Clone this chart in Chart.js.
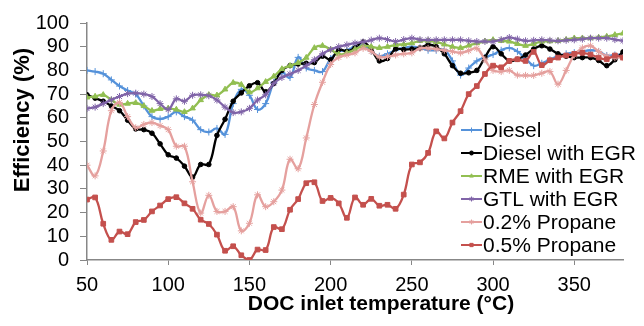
<!DOCTYPE html>
<html>
<head>
<meta charset="utf-8">
<script src="https://cdn.jsdelivr.net/npm/chart.js@4/dist/chart.umd.min.js"></script>
<style>
  html, body { margin: 0; padding: 0; background: #fff; }
  #wrap { width: 644px; height: 326px; }
</style>
</head>
<body>
<div id="wrap"><canvas id="effChart" width="644" height="326"></canvas></div>
<script>
// DOC inlet temperature (°C), one reading every 5 degrees
const temps = [50, 55, 60, 65, 70, 75, 80, 85, 90, 95, 100, 105, 110, 115, 120, 125, 130, 135, 140, 145,
  150, 155, 160, 165, 170, 175, 180, 185, 190, 195, 200, 205, 210, 215, 220, 225, 230, 235, 240, 245,
  250, 255, 260, 265, 270, 275, 280, 285, 290, 295, 300, 305, 310, 315, 320, 325, 330, 335, 340, 345,
  350, 355, 360, 365, 370, 375, 380];

const xTicks = [50, 100, 150, 200, 250, 300, 350];

const diesel = [80, 79.5, 78.6, 76, 73.4, 71.5, 70, 65, 60.5, 59.5, 60.5, 62.5, 60.5, 59, 55, 54, 55.5, 53, 66, 72,
  69.5, 63.5, 66, 75, 79, 77, 85.5, 81, 80, 79.5, 85, 88, 88.5, 90, 90.5, 88, 86, 87, 88.5, 89.5,
  90, 89.5, 88.5, 88.5, 88.8, 84, 78, 81, 84, 85.5, 86.7, 88.5, 89.5, 88, 85, 82, 83, 84.5, 86, 87,
  87.5, 88, 88.5, 88, 86.3, 86.5, 86.7];

const dieselEgr = [69.7, 68.3, 67, 65, 63, 59, 55.3, 55, 53.5, 49, 44.4, 43, 39.6, 35, 40.3, 40.3, 52.6, 59.4, 67, 70.5,
  73.5, 74.8, 71, 74.5, 80, 82, 82.7, 83, 83.3, 86, 84.5, 88.8, 88, 89.5, 92, 88.8, 84, 85, 89, 88.8,
  89, 89.5, 90.8, 90, 87, 82, 78.8, 79, 80, 85.5, 90, 87, 84, 84.7, 86.5, 89, 90.4, 89, 87, 86,
  85.4, 85.4, 85.4, 84.2, 82, 84.5, 87.8];

const rmeEgr = [68.6, 69, 69.7, 67.5, 65.6, 66, 66.3, 65, 63, 63.8, 64, 63.5, 62.5, 64, 67.5, 69.7, 69.5, 72, 74.8, 74,
  70.8, 72.5, 75.2, 77.5, 80.6, 82, 83.2, 85.4, 89.5, 90.4, 88.8, 86.8, 87.4, 88.8, 90.4, 90, 89.5, 90, 90.8, 91,
  91.5, 92.5, 92.5, 92, 91, 90, 89.5, 90.5, 91.5, 92.3, 92.9, 92.5, 92.2, 91.2, 90.4, 91.2, 92.2, 92.3, 92.5, 93,
  93.6, 93.6, 93.6, 93.9, 94.3, 95, 95.6];

const gtlEgr = [63.9, 64.5, 66, 67.6, 69, 70.2, 70.4, 70, 69, 66, 63.5, 68, 67, 69.5, 69.7, 69.3, 67.5, 64.5, 62.2, 62.5,
  64, 67.5, 69.7, 74.5, 77, 78.5, 80, 82, 84.5, 87, 88.8, 90, 90.8, 91.5, 92, 92.8, 93.6, 93, 92.2, 93,
  93.6, 93, 92.9, 92.9, 92.9, 92.9, 92.9, 92.5, 92.2, 92.2, 92.2, 93, 93.9, 93.2, 92.5, 92.7, 92.9, 92.7, 92.5, 92.7,
  92.9, 93.2, 93.6, 93.6, 93.6, 93, 92.5];

const propane02 = [40, 35.5, 46, 63, 66.5, 60.5, 55.8, 57.2, 58, 56.7, 55, 48, 48, 33, 19.8, 27.3, 20.5, 20.5, 22.5, 12.3,
  15.5, 27.5, 22.5, 24.6, 29.5, 42.5, 38.5, 51.5, 65.6, 75, 82.5, 85.5, 86.5, 87.4, 89.3, 88, 85.6, 85.8, 86.5, 87,
  87.4, 89.3, 89.3, 89, 88.5, 88, 87.4, 88.3, 89.3, 84.5, 80, 79.5, 80, 78, 77.9, 77.9, 78.8, 79.5, 74.2, 80,
  86.5, 89.5, 90.4, 88, 86, 85.4, 85.4];

const propane05 = [25.5, 26.4, 15.3, 8.5, 12, 10.9, 16, 16.9, 20.5, 23, 25.7, 26.5, 23.9, 21.6, 17, 15.2, 10.7, 3.9, 5.8, 2,
  0, 4.4, 4.2, 13.9, 13, 21.2, 25.7, 32.4, 32.8, 24.9, 26.2, 23.9, 17.8, 26.4, 23.3, 25.8, 22.9, 23.3, 21.6, 27.6,
  40.3, 41.2, 45.2, 54.3, 51.3, 58, 62.8, 70, 73.4, 78.5, 82, 81.3, 84, 84.7, 84, 87.8, 82.2, 84.3, 85.4, 86.3,
  87, 87.4, 86.7, 85.4, 84.7, 86.3, 85.4];

const seriesNames = ['Diesel', 'Diesel with EGR', 'RME with EGR', 'GTL with EGR', '0.2% Propane', '0.5% Propane'];
const seriesValues = [diesel, dieselEgr, rmeEgr, gtlEgr, propane02, propane05];
const seriesColors = ['#5592DA', '#000000', '#92BF52', '#8064A8', '#E5A09E', '#C4504D'];
const seriesMarkers = ['cross', 'circle', 'triangle', 'star', 'star', 'rect'];
const markerSizes = [3.5, 2.3, 3.2, 3.5, 3.5, 3.3];

const FONT = '"Liberation Sans", Arial, sans-serif';
const AXIS_GREY = '#878787';

function toPoints(vals) {
  return temps.map((t, i) => ({ x: t, y: vals[i] }));
}

const datasets = seriesNames.map((name, i) => ({
  label: name,
  data: toPoints(seriesValues[i]),
  borderColor: seriesColors[i],
  backgroundColor: seriesColors[i],
  pointBackgroundColor: seriesColors[i],
  pointBorderColor: seriesColors[i],
  pointStyle: seriesMarkers[i],
  pointRadius: markerSizes[i],
  pointBorderWidth: 1,
  borderWidth: 2.3,
  tension: 0.4,
  fill: false,
  order: seriesNames.length - i   // later series on top, like the original
}));

// legend inside the plot + axis titles placed where the original has them
const overlayPlugin = {
  id: 'overlay',
  afterDraw(chart) {
    const ctx = chart.ctx;
    ctx.save();
    ctx.font = '21px ' + FONT;
    ctx.textBaseline = 'middle';
    ctx.textAlign = 'left';
    chart.data.datasets.forEach((ds, i) => {
      const y = 130 + i * 23;
      ctx.strokeStyle = ds.borderColor;
      ctx.lineWidth = 2;
      ctx.beginPath();
      ctx.moveTo(461, y);
      ctx.lineTo(482, y);
      ctx.stroke();
      ctx.fillStyle = ds.pointBackgroundColor;
      ctx.lineWidth = 1;
      Chart.helpers.drawPoint(ctx, {
        pointStyle: ds.pointStyle, radius: Math.max(ds.pointRadius - 1, 2), borderWidth: 1, rotation: 0
      }, 471.5, y);
      ctx.fillStyle = '#000';
      ctx.fillText(ds.label, 483, y + 1);
    });

    ctx.font = 'bold 21px ' + FONT;
    ctx.fillStyle = '#000';
    ctx.textAlign = 'center';
    ctx.fillText('DOC inlet temperature (°C)', 381, 304);
    ctx.font = 'bold 22px ' + FONT;
    ctx.translate(23, 120);
    ctx.rotate(-Math.PI / 2);
    ctx.fillText('Efficiency (%)', 0, 0);
    ctx.restore();
  }
};

new Chart(document.getElementById('effChart').getContext('2d'), {
  type: 'line',
  data: { datasets: datasets },
  plugins: [overlayPlugin],
  options: {
    responsive: false,
    animation: false,
    layout: { padding: { top: 16, right: 21, left: 0, bottom: 0 } },
    scales: {
      x: {
        type: 'linear',
        min: 50,
        max: 380,
        afterBuildTicks(scale) { scale.ticks = xTicks.map(v => ({ value: v })); },
        afterFit(scale) { scale.height = 66; },
        grid: { drawOnChartArea: false, drawTicks: true, tickLength: 5, color: AXIS_GREY },
        border: { color: AXIS_GREY, width: 1.5 },
        ticks: { color: '#000', font: { family: FONT, size: 20 }, padding: 8, maxRotation: 0, autoSkip: false }
      },
      y: {
        min: 0,
        max: 100,
        afterFit(scale) { scale.width = 87; },
        grid: { drawOnChartArea: false, drawTicks: true, tickLength: 7, color: AXIS_GREY },
        border: { color: AXIS_GREY, width: 1.5 },
        ticks: { stepSize: 10, color: '#000', font: { family: FONT, size: 20 }, padding: 11, autoSkip: false }
      }
    },
    plugins: {
      legend: { display: false },
      tooltip: { enabled: false }
    }
  }
});
</script>
</body>
</html>
